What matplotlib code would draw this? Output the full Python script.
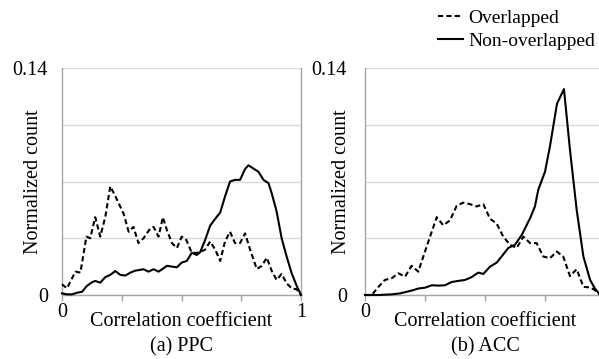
import matplotlib
matplotlib.use("Agg")
import matplotlib.pyplot as plt
from matplotlib.lines import Line2D

plt.rcParams['font.family'] = ['Liberation Serif', 'DejaVu Serif']

# (a) PPC
ppc_over_x = [0.0, 0.021, 0.056, 0.077, 0.102, 0.118, 0.139, 0.160, 0.181, 0.202, 0.223, 0.258,
              0.279, 0.299, 0.320, 0.341, 0.369, 0.383, 0.404, 0.422, 0.439, 0.460, 0.481, 0.501,
              0.520, 0.543, 0.564, 0.585, 0.599, 0.620, 0.641, 0.662, 0.682, 0.703, 0.724, 0.745,
              0.766, 0.787, 0.815, 0.836, 0.857, 0.877, 0.898, 0.919, 0.940, 0.961, 0.982, 1.0]
ppc_over_y = [0.0066, 0.0041, 0.0144, 0.0138, 0.036, 0.035, 0.048, 0.036, 0.048, 0.067, 0.061, 0.050,
              0.039, 0.042, 0.032, 0.035, 0.041, 0.042, 0.036, 0.048, 0.040, 0.032, 0.029, 0.036,
              0.034, 0.026, 0.026, 0.027, 0.028, 0.033, 0.028, 0.021, 0.033, 0.039, 0.032, 0.032,
              0.038, 0.028, 0.016, 0.018, 0.023, 0.015, 0.0093, 0.013, 0.0072, 0.0041, 0.0035, 0.0]

ppc_non_x = [0.0, 0.021, 0.042, 0.063, 0.084, 0.104, 0.125, 0.139, 0.160, 0.181, 0.202, 0.223,
             0.244, 0.265, 0.286, 0.306, 0.327, 0.341, 0.362, 0.383, 0.404, 0.425, 0.439, 0.460,
             0.481, 0.501, 0.522, 0.543, 0.564, 0.578, 0.599, 0.620, 0.641, 0.662, 0.682, 0.703,
             0.724, 0.745, 0.766, 0.780, 0.801, 0.822, 0.843, 0.864, 0.877, 0.898, 0.919, 0.940,
             0.961, 0.982, 1.0]
ppc_non_y = [0.001, 0.0004, 0.0004, 0.0014, 0.002, 0.0056, 0.0078, 0.0087, 0.0076, 0.011, 0.0124, 0.0148,
             0.0124, 0.012, 0.0138, 0.015, 0.0155, 0.0159, 0.0144, 0.0159, 0.0144, 0.0165, 0.018, 0.0175,
             0.0171, 0.020, 0.021, 0.026, 0.0247, 0.0264, 0.034, 0.0428, 0.047, 0.0509, 0.0607, 0.070,
             0.071, 0.071, 0.0777, 0.080, 0.078, 0.076, 0.071, 0.069, 0.063, 0.0515, 0.035, 0.0237,
             0.0134, 0.0056, 0.0]

# (b) ACC
acc_over_x = [0.0, 0.028, 0.056, 0.083, 0.111, 0.139, 0.167, 0.194, 0.222, 0.243, 0.271, 0.299,
              0.326, 0.354, 0.382, 0.410, 0.438, 0.465, 0.493, 0.521, 0.549, 0.576, 0.604, 0.632,
              0.660, 0.688, 0.715, 0.743, 0.771, 0.799, 0.826, 0.854, 0.882, 0.910, 0.938, 0.958,
              0.980, 1.0]
acc_over_y = [0.0, 0.0, 0.005, 0.0093, 0.0103, 0.0134, 0.0113, 0.018, 0.0144, 0.0237, 0.036, 0.048,
              0.043, 0.046, 0.055, 0.057, 0.056, 0.0546, 0.056, 0.047, 0.044, 0.036, 0.031, 0.029,
              0.036, 0.032, 0.032, 0.0237, 0.0227, 0.0268, 0.0237, 0.0117, 0.0159, 0.005, 0.0047, 0.003,
              0.0, 0.0]

acc_non_x = [0.0, 0.056, 0.111, 0.146, 0.174, 0.201, 0.222, 0.250, 0.278, 0.306, 0.333, 0.361,
             0.389, 0.417, 0.444, 0.472, 0.493, 0.521, 0.549, 0.569, 0.597, 0.625, 0.653, 0.688,
             0.708, 0.722, 0.750, 0.771, 0.800, 0.829, 0.854, 0.882, 0.910, 0.938, 0.958, 0.980, 1.0]
acc_non_y = [0.0, 0.0, 0.0004, 0.001, 0.002, 0.003, 0.004, 0.0045, 0.006, 0.0058, 0.006, 0.008,
             0.0087, 0.0093, 0.011, 0.0138, 0.013, 0.0175, 0.020, 0.0237, 0.029, 0.031, 0.037, 0.0474,
             0.0546, 0.065, 0.076, 0.092, 0.118, 0.127, 0.0896, 0.0525, 0.0237, 0.0093, 0.004, 0.0, 0.0]

red_x = [0.02, 0.05]
red_y = [0.0, 0.0]

x_ticks = [0, 0.25, 0.5, 0.75, 1.0]
x_ticklabels_a = ['0', '', '', '', '1']
x_ticklabels_b = ['0', '', '', '', '']
y_ticks = [0, 0.035, 0.07, 0.105, 0.14]
y_ticklabels = ['0', '', '', '', '0.14']

W, H = 599, 359
fig = plt.figure(figsize=(W / 100, H / 100), dpi=100)

GRID = '#d9d9d9'
AX = '#a6a6a6'
FS = 14.5
DASH = (2.5, 1.5)

def setup(ax, ypad, panel_label, ylab_x, xlabels):
    ax.set_xlim(0, 1)
    ax.set_ylim(0, 0.14)
    ax.set_xticks(x_ticks)
    ax.set_xticklabels(xlabels)
    ax.set_yticks(y_ticks)
    ax.set_yticklabels(y_ticklabels)
    ax.yaxis.grid(True, color=GRID, lw=1.0)
    ax.set_axisbelow(True)
    ax.spines['top'].set_visible(False)
    for s in ['left', 'bottom', 'right']:
        ax.spines[s].set_color(AX)
        ax.spines[s].set_linewidth(1.0)
    ax.tick_params(axis='x', direction='out', length=4, color=AX, width=1.0,
                   labelsize=FS, pad=2)
    ax.tick_params(axis='y', length=0, labelsize=FS, pad=ypad)
    ax.text(0.5, -0.115, 'Correlation coefficient', transform=ax.transAxes,
            ha='center', va='center', fontsize=FS)
    ax.text(ylab_x, 0.5, 'Normalized count', transform=ax.transAxes,
            ha='center', va='center', rotation=90, fontsize=FS)
    ax.text(0.5, -0.228, panel_label, transform=ax.transAxes,
            ha='center', va='center', fontsize=FS)

ax1 = fig.add_axes([62 / W, 64 / H, 239 / W, 227 / H])
ax2 = fig.add_axes([365 / W, 64 / H, 240 / W, 227 / H])

for ax, ox, oy, nx, ny in [(ax1, ppc_over_x, ppc_over_y, ppc_non_x, ppc_non_y),
                           (ax2, acc_over_x, acc_over_y, acc_non_x, acc_non_y)]:
    ax.plot(red_x, red_y, color='#ff4040', lw=1.5, zorder=2, clip_on=False)
    ax.plot(ox, oy, color='black', lw=1.5, ls=(0, DASH), zorder=3, clip_on=False)
    ax.plot(nx, ny, color='black', lw=1.5, zorder=3, clip_on=False)

setup(ax1, 10, '(a) PPC', -0.12, x_ticklabels_a)
setup(ax2, 13, '(b) ACC', -0.10, x_ticklabels_b)
ax2.spines['right'].set_visible(False)

handles = [Line2D([], [], color='black', lw=1.5, ls=(0, DASH)),
           Line2D([], [], color='black', lw=1.5)]
fig.legend(handles, ['Overlapped', 'Non-overlapped'], loc='upper right',
           bbox_to_anchor=(1.003, 0.99), frameon=False, fontsize=14,
           handlelength=1.3, handletextpad=0.25, labelspacing=0.28,
           borderaxespad=0.0, borderpad=0.3)

fig.savefig('out.png', dpi=100)
